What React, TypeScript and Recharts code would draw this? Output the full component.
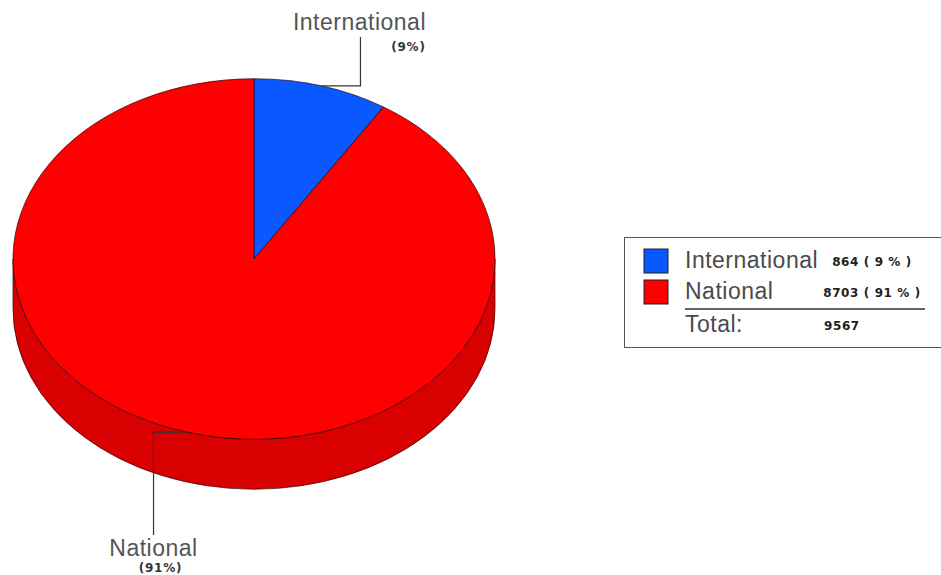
import React from 'react';
import { PieChart, Pie, Legend } from 'recharts';

const categories = ['International', 'National'];
const values = [864, 8703];
const percents = [9, 91];
const topColors = ['#0a58ff', '#ff0000'];
const sideColors = ['#0040c0', '#d80000'];

const data = categories.map((name, i) => ({
  name,
  value: values[i],
  pct: percents[i],
  fill: topColors[i],
  side: sideColors[i],
}));
const total = values.reduce((a, b) => a + b, 0);

const RATIO = 0.748;
const DEPTH = 50;
const LABEL_FONT = 'Liberation Sans, Arial, sans-serif';
const VALUE_FONT = 'DejaVu Sans, Verdana, sans-serif';

const pt = (cx: number, cy: number, rx: number, ry: number, deg: number) => {
  const r = (deg * Math.PI) / 180;
  return [cx + rx * Math.cos(r), cy - ry * Math.sin(r)];
};

function TopShape(props: any) {
  const { cx, cy, outerRadius, startAngle, endAngle, payload } = props;
  const rx = outerRadius;
  const ry = outerRadius * RATIO;
  const [x1, y1] = pt(cx, cy, rx, ry, startAngle);
  const [x2, y2] = pt(cx, cy, rx, ry, endAngle);
  const large = Math.abs(startAngle - endAngle) > 180 ? 1 : 0;
  const sweep = startAngle > endAngle ? 1 : 0;
  const d = `M${cx},${cy} L${x1},${y1} A${rx},${ry} 0 ${large} ${sweep} ${x2},${y2} Z`;
  const fill = (payload && payload.fill) || props.fill;
  return <path d={d} fill={fill} stroke="rgba(40,0,0,0.75)" strokeWidth={0.9} strokeLinejoin="round" />;
}

function SideShape(props: any) {
  const { cx, cy, outerRadius, startAngle, endAngle, payload } = props;
  const rx = outerRadius;
  const ry = outerRadius * RATIO;
  const lo = Math.min(startAngle, endAngle);
  const hi = Math.max(startAngle, endAngle);
  const parts: React.ReactNode[] = [];
  for (let k = -2; k <= 1; k++) {
    const a = Math.max(lo, -180 + 360 * k);
    const b = Math.min(hi, 360 * k);
    if (b - a > 0.01) {
      const [xb, yb] = pt(cx, cy, rx, ry, b);
      const [xa, ya] = pt(cx, cy, rx, ry, a);
      const large = b - a > 180 ? 1 : 0;
      const d = `M${xb},${yb} A${rx},${ry} 0 ${large} 1 ${xa},${ya} L${xa},${ya + DEPTH} A${rx},${ry} 0 ${large} 0 ${xb},${yb + DEPTH} Z`;
      parts.push(
        <path key={k} d={d} fill={(payload && payload.side) || '#c00'} stroke="rgba(40,0,0,0.75)" strokeWidth={0.9} />
      );
    }
  }
  return <g>{parts}</g>;
}

function renderLabel(props: any) {
  const { cx, cy, outerRadius, midAngle, index } = props;
  const rx = outerRadius;
  const ry = outerRadius * RATIO;
  const [ax, ay] = pt(cx, cy, rx, ry, midAngle);
  const item = data[index];
  const upper = ay < cy;
  if (upper) {
    const ex = ax + 39;
    const ey = ay - 49;
    return (
      <g key={`lbl-${index}`}>
        <polyline points={`${ax},${ay} ${ex},${ay} ${ex},${ey}`} fill="none" stroke="#333" strokeWidth={1.2} />
        <text x={ex - 1} y={ey - 7} textAnchor="middle" fontFamily={LABEL_FONT} fontSize={23} letterSpacing={0.5} fill="#555">
          {item.name}
        </text>
        <text x={ex + 48} y={ey + 14} textAnchor="middle" fontFamily={VALUE_FONT} fontWeight="bold" fontSize={12} letterSpacing={0.8} fill="#333">
          {`(${item.pct}%)`}
        </text>
      </g>
    );
  }
  const ex = ax - 33;
  const ey = ay + 103;
  return (
    <g key={`lbl-${index}`}>
      <polyline points={`${ax},${ay} ${ex},${ay} ${ex},${ey}`} fill="none" stroke="#333" strokeWidth={1.2} />
      <text x={ex} y={ey + 21} textAnchor="middle" fontFamily={LABEL_FONT} fontSize={23} letterSpacing={0.5} fill="#555">
        {item.name}
      </text>
      <text x={ex + 7} y={ey + 37} textAnchor="middle" fontFamily={VALUE_FONT} fontWeight="bold" fontSize={12} letterSpacing={0.8} fill="#333">
        {`(${item.pct}%)`}
      </text>
    </g>
  );
}

function LegendBox() {
  const rowY = [268, 299];
  return (
    <svg width={941} height={575} style={{ position: 'absolute', left: 0, top: 0, pointerEvents: 'none' }}>
      <rect x={624.5} y={237.5} width={330} height={110} fill="#fff" stroke="#555" strokeWidth={1} />
      {data.map((d, i) => (
        <g key={d.name}>
          <rect x={644} y={249 + i * 31} width={24} height={24} fill={d.fill} stroke="#222" strokeWidth={1} />
          <text x={685} y={rowY[i]} fontFamily={LABEL_FONT} fontSize={23} letterSpacing={0.5} fill="#4a4a4a">
            {d.name}
          </text>
          <text x={872} y={rowY[i] - 2} textAnchor="middle" fontFamily={VALUE_FONT} fontWeight="bold" fontSize={12} letterSpacing={0.6} fill="#222">
            {`${d.value} ( ${d.pct} % )`}
          </text>
        </g>
      ))}
      <line x1={685} y1={309} x2={925} y2={309} stroke="#333" strokeWidth={1.5} />
      <text x={685} y={332} fontFamily={LABEL_FONT} fontSize={23} letterSpacing={0.5} fill="#4a4a4a">
        Total:
      </text>
      <text x={824} y={330} fontFamily={VALUE_FONT} fontWeight="bold" fontSize={12} letterSpacing={0.6} fill="#222">
        {total}
      </text>
    </svg>
  );
}

export default function App() {
  return (
    <div style={{ position: 'absolute', left: 0, top: 0, width: 941, height: 575, background: '#fff' }}>
      <PieChart width={941} height={575} margin={{ top: 0, right: 0, bottom: 0, left: 0 }}>
        <Pie
          data={data}
          dataKey="value"
          nameKey="name"
          cx={254}
          cy={259}
          outerRadius={241}
          startAngle={90}
          endAngle={-270}
          shape={SideShape}
          isAnimationActive={false}
          label={false}
          labelLine={false}
          legendType="none"
        />
        <Pie
          data={data}
          dataKey="value"
          nameKey="name"
          cx={254}
          cy={259}
          outerRadius={241}
          startAngle={90}
          endAngle={-270}
          shape={TopShape}
          isAnimationActive={false}
          label={renderLabel}
          labelLine={false}
        />
        <Legend content={() => <LegendBox />} wrapperStyle={{ position: 'absolute', left: 0, top: 0, width: 941, height: 575 }} />
      </PieChart>
    </div>
  );
}
